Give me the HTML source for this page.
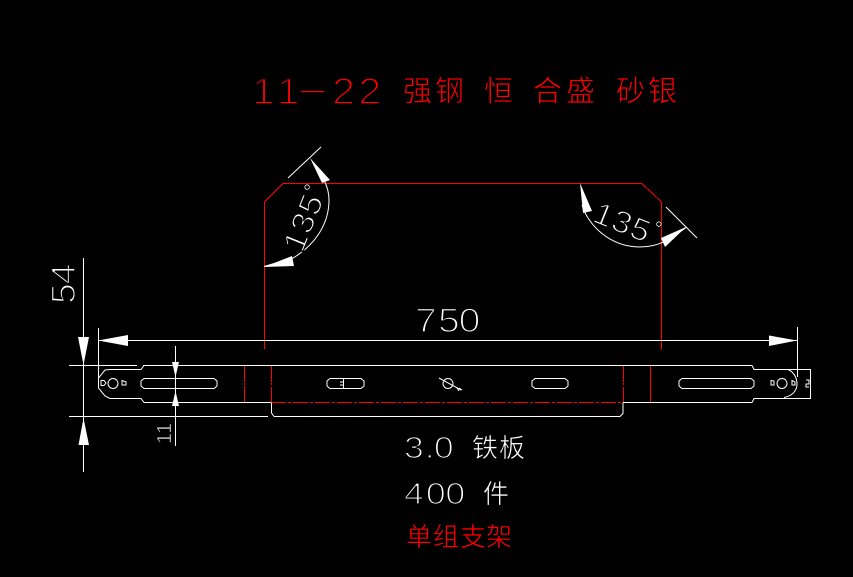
<!DOCTYPE html>
<html><head><meta charset="utf-8"><style>
html,body{margin:0;padding:0;background:#000;width:853px;height:577px;overflow:hidden}
svg{display:block}
.t{font-family:"Liberation Sans","Noto Sans CJK SC",sans-serif;stroke:#000}
</style></head><body>
<svg width="853" height="577" viewBox="0 0 853 577" xmlns="http://www.w3.org/2000/svg">
<rect width="853" height="577" fill="#000"/>
<!-- red profile -->
<g fill="none" stroke="#f00" stroke-width="1" shape-rendering="crispEdges">
<path d="M264.5 349V202L283 183.5H642L661.5 202V350"/>
<path d="M244.5 365V382M244.5 383V385M244.5 386V402"/>
<path d="M271.5 365V382M271.5 383V385M271.5 387V402"/>
<path d="M623.5 365V382M623.5 383V385M623.5 387V402"/>
<path d="M650.5 365V402"/>
</g>
<path d="M271 402.5H623" stroke="#f00" stroke-width="1" stroke-dasharray="15 2 3 2" shape-rendering="crispEdges"/>
<!-- white outline -->
<g fill="none" stroke="#fff" stroke-width="1">
<path d="M69 365.5H137M143 365.5H752L754 369.5H811M69 416.5H268M274 416.5H620L623 413.5V402.5M271.5 402.5V413L274 416.5"/>
<path d="M271 402.5H144L141 398.5H110L105 396L98.5 388V378L105 370L110 369.5H141L144 365.5M623 402.5H752L754 398.5H811"/>
<circle cx="113" cy="383.5" r="5"/>
<path d="M101 380.5H104L106 383L104 385.5H101ZM122 380.5L126 382L126 385H122Z"/>
<path d="M144 378.5H214L217 381V386L214 388.5H144L141 386V381Z"/>
<path d="M330 378.5H361L364 381V386L361 388.5H330L327 386V381ZM343.5 378.5V388.5M340 382H343M340 385H343"/>
<circle cx="448" cy="383.5" r="5"/>
<path d="M439 378L461 390M457 388L459 391M459 388L462 390"/>
<path d="M535 378.5H565L568 381V386L565 388.5H535L532 386V381Z"/>
<path d="M682 378.5H751L754 381V386L751 388.5H682L679 386V381Z"/>
<circle cx="782" cy="383.5" r="5"/>
<path d="M771 380.5L774 381L774 385L771 385ZM792 380.5L795 382L795 385L792 385Z"/>
<path d="M788 369.5C794 372 797 378 797 384C797 391 792 396 784 397.5"/>
<path d="M810.5 369.5V398.5M806 380H809V384H806V387H809"/>
<!-- dimension lines -->
<path d="M83.5 258V472M175.5 346V446M98.5 328V378M797.5 327V377M98 340.5H797"/>
<path d="M264 266.5L293 258C315 245 329 224 329 200C329 192 327 186 324 180M288 178L321 147"/>
<path d="M686 227.5C672 238 660 247 640 247C610 247 588 225 582 205M666 207L697 238"/>
</g>
<!-- arrowheads -->
<g fill="#fff">
<path d="M83.5 365L78 337H89Z"/>
<path d="M83.5 418L78.5 445H89Z"/>
<path d="M175.5 377L172 362H179Z"/>
<path d="M175.5 391L172 406H179Z"/>
<path d="M98 340.5L128 335V346Z"/>
<path d="M797 340.5L769 335.5V346Z"/>
<path d="M310 158L330 180L322 183Z"/>
<path d="M264 267L292 256L294 266Z"/>
<path d="M580 183L592 211L583 213Z"/>
<path d="M686 227L661 238L665 247Z"/>
</g>
<!-- red title -->
<g fill="#f00">
<text class="t" transform="translate(252,104) scale(1.1,1)" x="0 22.7" y="0" font-size="37" stroke-width="1.6">11</text>
<rect x="301" y="91" width="23" height="1.2"/>
<text class="t" transform="translate(332,104) scale(1.12,1)" x="0 23.5" y="0" font-size="37" stroke-width="1.6">22</text>
<text class="t" x="403" y="101" font-size="29" stroke-width="0.7">强</text>
<text class="t" x="435" y="101" font-size="29" stroke-width="0.7">钢</text>
<text class="t" x="484" y="101" font-size="29" stroke-width="0.7">恒</text>
<text class="t" x="533" y="101" font-size="29" stroke-width="0.7">合</text>
<text class="t" x="566" y="101" font-size="29" stroke-width="0.7">盛</text>
<text class="t" x="616" y="101" font-size="29" stroke-width="0.7">砂</text>
<text class="t" x="648" y="101" font-size="29" stroke-width="0.7">银</text>
<text class="t" x="406 433 460 486" y="546" font-size="26" stroke-width="0.6">单组支架</text>
</g>
<!-- white labels -->
<g fill="#fff">
<text class="t" transform="translate(415,332) scale(1.15,1)" x="0 20 38" y="0" font-size="34" stroke-width="1.5">750</text>
<text class="t" transform="translate(75,304) rotate(-90) scale(1.1,1)" x="0 18" y="0" font-size="34" stroke-width="1.5">54</text>
<text class="t" transform="translate(171,444) rotate(-90)" x="0 10" y="0" font-size="20" stroke-width="0.7">11</text>
<text class="t" transform="translate(302,254) rotate(-68) scale(1.1,1)" x="0 18 36" y="0" font-size="31" stroke-width="1.3">135</text>
<text class="t" transform="translate(316,195) rotate(-68)" x="0" y="0" font-size="20" stroke-width="0.3">°</text>
<text class="t" transform="translate(591,221) rotate(22) scale(1.1,1)" x="0 18 36" y="0" font-size="31" stroke-width="1.3">135</text>
<text class="t" transform="translate(651,233) rotate(22)" x="0" y="0" font-size="20" stroke-width="0.3">°</text>
<text class="t" transform="translate(404,458) scale(1.15,1)" x="0 18 26" y="0" font-size="31" stroke-width="1.35">3.0</text>
<text class="t" x="472 499" y="457" font-size="26" stroke-width="0.6">铁板</text>
<text class="t" transform="translate(404,504) scale(1.15,1)" x="0 19 36" y="0" font-size="31" stroke-width="1.35">400</text>
<text class="t" x="483" y="503" font-size="26" stroke-width="0.6">件</text>
</g>
</svg>
</body></html>
